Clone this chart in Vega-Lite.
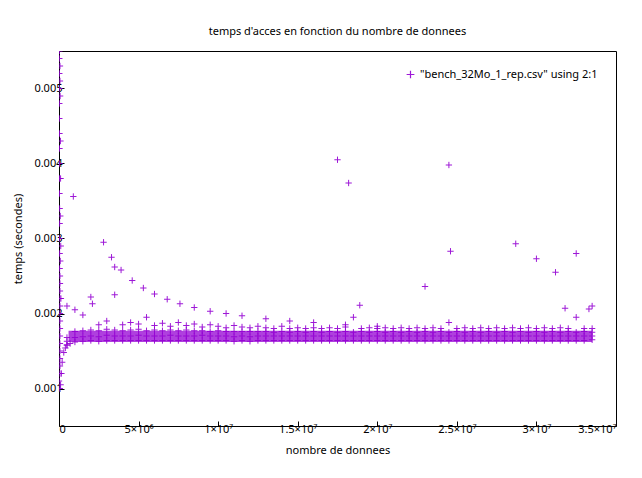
{
"$schema":"https://vega.github.io/schema/vega-lite/v6.json",
"width":557,"height":375,
"padding":{"left":12,"top":26,"right":15,"bottom":5},
"config":{"font":"Noto Sans","view":{"stroke":"black","strokeWidth":1},"axis":{"grid":false,"labelFont":"Noto Sans","titleFont":"Noto Sans","labelFontSize":11,"titleFontSize":11,"titleFontWeight":"normal","tickSize":-5,"domain":false,"labelColor":"black","titleColor":"black","tickColor":"black"}},
"title":{"text":"temps d'acces en fonction du nombre de donnees","fontSize":11,"fontWeight":"normal","font":"Noto Sans","offset":14},
"datasets":{
"rect":[{"x":600000,"x2":33500000,"y":0.00162,"y2":0.00177}],
"band":[
{"x":500000,"a":0.00158,"b":0.00163,"c":0.00168,"d":0.0021},{"x":1000000,"a":0.00162,"b":0.00168,"c":0.00176,"d":0.00205},{"x":1500000,"a":0.00163,"b":0.00169,"c":0.00177,"d":0.00198},{"x":2000000,"a":0.00164,"b":0.0017,"c":0.00178,"d":0.00222},{"x":2500000,"a":0.00163,"b":0.00169,"c":0.00177,"d":0.00185},
{"x":3000000,"a":0.00164,"b":0.00171,"c":0.00179,"d":0.0019},{"x":3500000,"a":0.00164,"b":0.0017,"c":0.00178,"d":0.00225},{"x":4000000,"a":0.00164,"b":0.0017,"c":0.00177,"d":0.00185},{"x":4500000,"a":0.00164,"b":0.0017,"c":0.00178,"d":0.00188},{"x":5000000,"a":0.00164,"b":0.00171,"c":0.00179,"d":0.00186},
{"x":5500000,"a":0.00164,"b":0.0017,"c":0.00177,"d":0.00195},{"x":6000000,"a":0.00164,"b":0.0017,"c":0.00178,"d":0.00184},{"x":6500000,"a":0.00164,"b":0.0017,"c":0.00177,"d":0.00187},{"x":7000000,"a":0.00164,"b":0.00171,"c":0.00178,"d":0.00183},{"x":7500000,"a":0.00164,"b":0.0017,"c":0.00177,"d":0.00188},
{"x":8000000,"a":0.00164,"b":0.0017,"c":0.00178,"d":0.00184},{"x":8500000,"a":0.00164,"b":0.0017,"c":0.00177,"d":0.00186},{"x":9000000,"a":0.00164,"b":0.00171,"c":0.00177,"d":0.00182},{"x":9500000,"a":0.00164,"b":0.0017,"c":0.00176,"d":0.00185},{"x":10000000,"a":0.00164,"b":0.0017,"c":0.00177,"d":0.00183},
{"x":10500000,"a":0.00164,"b":0.0017,"c":0.00176,"d":0.00181},{"x":11000000,"a":0.00163,"b":0.00169,"c":0.00176,"d":0.00184},{"x":11500000,"a":0.00164,"b":0.0017,"c":0.00176,"d":0.00182},{"x":12000000,"a":0.00163,"b":0.00169,"c":0.00176,"d":0.00181},{"x":12500000,"a":0.00164,"b":0.0017,"c":0.00176,"d":0.00183},
{"x":13000000,"a":0.00164,"b":0.0017,"c":0.00176,"d":0.00181},{"x":13500000,"a":0.00164,"b":0.0017,"c":0.00175,"d":0.0018},{"x":14000000,"a":0.00164,"b":0.0017,"c":0.00176,"d":0.00183},{"x":14500000,"a":0.00164,"b":0.0017,"c":0.00175,"d":0.0018},{"x":15000000,"a":0.00164,"b":0.0017,"c":0.00176,"d":0.00181},
{"x":15500000,"a":0.00164,"b":0.0017,"c":0.00175,"d":0.0018},{"x":16000000,"a":0.00164,"b":0.0017,"c":0.00176,"d":0.00181},{"x":16500000,"a":0.00164,"b":0.0017,"c":0.00175,"d":0.0018},{"x":17000000,"a":0.00164,"b":0.0017,"c":0.00176,"d":0.00181},{"x":17500000,"a":0.00164,"b":0.0017,"c":0.00175,"d":0.0018},
{"x":18000000,"a":0.00164,"b":0.0017,"c":0.00176,"d":0.00182},{"x":18500000,"a":0.00164,"b":0.0017,"c":0.00175,"d":0.00195},{"x":19000000,"a":0.00164,"b":0.0017,"c":0.00176,"d":0.0018},{"x":19500000,"a":0.00164,"b":0.0017,"c":0.00175,"d":0.00181},{"x":20000000,"a":0.00164,"b":0.0017,"c":0.00176,"d":0.0018},
{"x":20500000,"a":0.00164,"b":0.0017,"c":0.00175,"d":0.00181},{"x":21000000,"a":0.00164,"b":0.0017,"c":0.00176,"d":0.0018},{"x":21500000,"a":0.00164,"b":0.0017,"c":0.00175,"d":0.00181},{"x":22000000,"a":0.00164,"b":0.0017,"c":0.00176,"d":0.0018},{"x":22500000,"a":0.00164,"b":0.0017,"c":0.00175,"d":0.00181},
{"x":23000000,"a":0.00164,"b":0.0017,"c":0.00176,"d":0.0018},{"x":23500000,"a":0.00164,"b":0.0017,"c":0.00175,"d":0.00181},{"x":24000000,"a":0.00164,"b":0.0017,"c":0.00176,"d":0.0018},{"x":24500000,"a":0.00164,"b":0.0017,"c":0.00175,"d":0.00188},{"x":25000000,"a":0.00164,"b":0.0017,"c":0.00176,"d":0.0018},
{"x":25500000,"a":0.00164,"b":0.0017,"c":0.00175,"d":0.00181},{"x":26000000,"a":0.00164,"b":0.0017,"c":0.00176,"d":0.0018},{"x":26500000,"a":0.00164,"b":0.0017,"c":0.00175,"d":0.00181},{"x":27000000,"a":0.00164,"b":0.0017,"c":0.00176,"d":0.0018},{"x":27500000,"a":0.00164,"b":0.0017,"c":0.00175,"d":0.00181},
{"x":28000000,"a":0.00164,"b":0.0017,"c":0.00176,"d":0.0018},{"x":28500000,"a":0.00164,"b":0.0017,"c":0.00175,"d":0.00181},{"x":29000000,"a":0.00164,"b":0.0017,"c":0.00176,"d":0.0018},{"x":29500000,"a":0.00164,"b":0.0017,"c":0.00175,"d":0.00181},{"x":30000000,"a":0.00164,"b":0.0017,"c":0.00176,"d":0.0018},
{"x":30500000,"a":0.00164,"b":0.0017,"c":0.00175,"d":0.00181},{"x":31000000,"a":0.00164,"b":0.0017,"c":0.00176,"d":0.0018},{"x":31500000,"a":0.00164,"b":0.0017,"c":0.00175,"d":0.00181},{"x":32000000,"a":0.00164,"b":0.0017,"c":0.00176,"d":0.0018},{"x":32500000,"a":0.00164,"b":0.0017,"c":0.00175,"d":0.00195},
{"x":33000000,"a":0.00164,"b":0.0017,"c":0.00176,"d":0.0018},{"x":33500000,"a":0.00165,"b":0.0017,"c":0.00175,"d":0.0018}
],
"pts":[
{"x":2800000,"y":0.00295},{"x":3300000,"y":0.00275},{"x":3900000,"y":0.00258},{"x":4600000,"y":0.00244},{"x":5300000,"y":0.00234},{"x":6000000,"y":0.00226},{"x":6800000,"y":0.00219},{"x":7600000,"y":0.00213},{"x":8500000,"y":0.00208},{"x":9500000,"y":0.00203},{"x":10500000,"y":0.002},{"x":11500000,"y":0.00197},{"x":13000000,"y":0.00193},{"x":14500000,"y":0.0019},{"x":16000000,"y":0.00188},{"x":18000000,"y":0.00185},{"x":20000000,"y":0.00183},
{"x":17500000,"y":0.00405},{"x":18200000,"y":0.00374},{"x":24500000,"y":0.00398},{"x":24600000,"y":0.00283},{"x":23000000,"y":0.00236},{"x":28700000,"y":0.00293},{"x":30000000,"y":0.00273},{"x":31200000,"y":0.00255},{"x":32500000,"y":0.0028},{"x":33500000,"y":0.0021},{"x":33300000,"y":0.00206},{"x":900000,"y":0.00356},{"x":3500000,"y":0.00262},{"x":18900000,"y":0.00211},{"x":31800000,"y":0.00207},{"x":2100000,"y":0.00213},
{"x":0,"y":0.0011},{"x":50000,"y":0.001},{"x":100000,"y":0.00105},{"x":150000,"y":0.0012},{"x":200000,"y":0.00135},{"x":300000,"y":0.00148},{"x":400000,"y":0.00154},{"x":500000,"y":0.00158},{"x":700000,"y":0.0016},
{"x":60000,"y":0.0012},{"x":60000,"y":0.0013},{"x":60000,"y":0.0014},{"x":60000,"y":0.0015},{"x":60000,"y":0.0016},{"x":60000,"y":0.0017},{"x":60000,"y":0.0018},{"x":60000,"y":0.0019},{"x":60000,"y":0.002},{"x":60000,"y":0.0021},{"x":60000,"y":0.0022},{"x":60000,"y":0.0023},{"x":60000,"y":0.0024},{"x":60000,"y":0.0025},
{"x":40000,"y":0.0026},{"x":40000,"y":0.0028},{"x":40000,"y":0.003},{"x":40000,"y":0.0032},{"x":40000,"y":0.0034},{"x":30000,"y":0.0036},{"x":30000,"y":0.0038},{"x":30000,"y":0.004},{"x":30000,"y":0.0042},{"x":30000,"y":0.0044},{"x":20000,"y":0.0046},{"x":20000,"y":0.0048},{"x":20000,"y":0.005},{"x":20000,"y":0.0052},{"x":20000,"y":0.0054},{"x":20000,"y":0.0055},
{"x":80000,"y":0.0027},{"x":80000,"y":0.0033},{"x":100000,"y":0.0038},{"x":90000,"y":0.0043},{"x":70000,"y":0.0049},{"x":120000,"y":0.0022},{"x":110000,"y":0.0029},{"x":60000,"y":0.0053},{"x":60000,"y":0.0051}
]},
"layer":[
{"data":{"name":"rect"},"mark":{"type":"rect","color":"#9400d3","opacity":0.75},
"encoding":{"x":{"field":"x","type":"quantitative"},"x2":{"field":"x2"},"y":{"field":"y","type":"quantitative"},"y2":{"field":"y2"}}},
{"data":{"name":"band"},"transform":[{"fold":["a","b","c","d"],"as":["k","y"]},{"filter":"datum.y != null"},{"calculate":"'\"bench_32Mo_1_rep.csv\" using 2:1'","as":"s"}],
"mark":{"type":"point","shape":"M-1,0L1,0M0,-1L0,1","size":40,"strokeWidth":1,"opacity":0.9,"clip":true},
"encoding":{"x":{"field":"x","type":"quantitative"},"y":{"field":"y","type":"quantitative"},"color":{"field":"s","type":"nominal"}}},
{"data":{"name":"pts"},"transform":[{"calculate":"'\"bench_32Mo_1_rep.csv\" using 2:1'","as":"s"}],
"mark":{"type":"point","shape":"M-1,0L1,0M0,-1L0,1","size":40,"strokeWidth":1,"opacity":0.9,"clip":true},
"encoding":{
"x":{"field":"x","type":"quantitative","scale":{"domain":[0,35000000],"nice":false},"title":"nombre de donnees","axis":{"values":[0,5000000,10000000,15000000,20000000,25000000,30000000,35000000],"labelExpr":"datum.value==0?'0':datum.value==5000000?'5×10⁶':datum.value==10000000?'1×10⁷':datum.value==15000000?'1.5×10⁷':datum.value==20000000?'2×10⁷':datum.value==25000000?'2.5×10⁷':datum.value==30000000?'3×10⁷':'3.5×10⁷'","titlePadding":10}},
"y":{"field":"y","type":"quantitative","scale":{"domain":[0.0005,0.0055],"nice":false,"zero":false},"title":"temps (secondes)","axis":{"values":[0.001,0.002,0.003,0.004,0.005],"format":".3f","titlePadding":10}},
"color":{"field":"s","type":"nominal","scale":{"range":["#9400d3"]},"legend":{"title":null,"orient":"top-right","labelFontSize":11,"labelFont":"Noto Sans","labelLimit":0,"symbolStrokeWidth":1.2,"symbolSize":60,"symbolOpacity":1}}}}
]
}
